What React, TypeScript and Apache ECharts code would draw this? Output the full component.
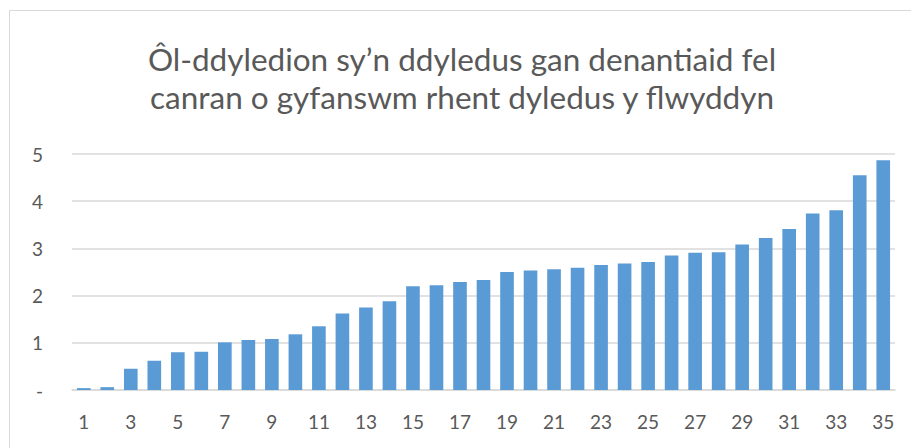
import React, { useEffect, useRef } from "react";
import * as echarts from "echarts";

const categories: string[] = Array.from({ length: 35 }, (_, i) => String(i + 1));
const values: number[] = [
  0.04, 0.06, 0.45, 0.62, 0.8, 0.81, 1.01, 1.06, 1.08, 1.18,
  1.35, 1.62, 1.75, 1.88, 2.2, 2.22, 2.29, 2.33, 2.5, 2.53,
  2.56, 2.59, 2.65, 2.68, 2.71, 2.85, 2.91, 2.92, 3.08, 3.22,
  3.41, 3.74, 3.81, 4.55, 4.87,
];
const yTicks: number[] = [0, 1, 2, 3, 4, 5];
const titleText = "Ôl-ddyledion sy’n ddyledus gan denantiaid fel\ncanran o gyfanswm rhent dyledus y flwyddyn";

export default function App() {
  const ref = useRef<HTMLDivElement>(null);
  useEffect(() => {
    if (!ref.current) return;
    const chart = echarts.init(ref.current, undefined, { renderer: "svg" });
    chart.setOption({
      animation: false,
      backgroundColor: "#ffffff",
      textStyle: { fontFamily: "Lato" },
      graphic: [
        {
          type: "rect",
          shape: { x: 9.5, y: 10.5, width: 1000, height: 1000 },
          style: { fill: "none", stroke: "#d9d9d9", lineWidth: 1 },
          silent: true,
        },
      ],
      title: {
        text: titleText,
        left: 457,
        top: 35,
        textAlign: "center",
        textStyle: {
          fontFamily: "Lato",
          fontSize: 31.5,
          fontWeight: "normal",
          color: "#595959",
          lineHeight: 38,
        },
      },
      grid: { left: 72, right: 16, top: 154, bottom: 58, containLabel: false },
      xAxis: {
        type: "category",
        data: categories,
        axisLine: { show: true, lineStyle: { color: "#d9d9d9", width: 1.5 } },
        axisTick: { show: false },
        axisLabel: {
          interval: 1,
          color: "#595959",
          fontFamily: "Lato",
          fontSize: 19,
          margin: 22,
        },
      },
      yAxis: {
        type: "value",
        min: yTicks[0],
        max: yTicks[yTicks.length - 1],
        interval: 1,
        axisLine: { show: false },
        axisTick: { show: false },
        splitLine: { lineStyle: { color: "#d9d9d9", width: 1.5 } },
        axisLabel: {
          color: "#595959",
          fontFamily: "Lato",
          fontSize: 19,
          margin: 29,
          formatter: (v: number) => (v === 0 ? "-" : String(v)),
        },
      },
      series: [
        {
          type: "bar",
          data: values,
          barCategoryGap: "42%",
          itemStyle: { color: "#5b9bd5" },
        },
      ],
    });
    return () => chart.dispose();
  }, []);
  return (
    <div
      ref={ref}
      style={{ position: "fixed", left: 0, top: 0, width: 911, height: 448 }}
    />
  );
}
